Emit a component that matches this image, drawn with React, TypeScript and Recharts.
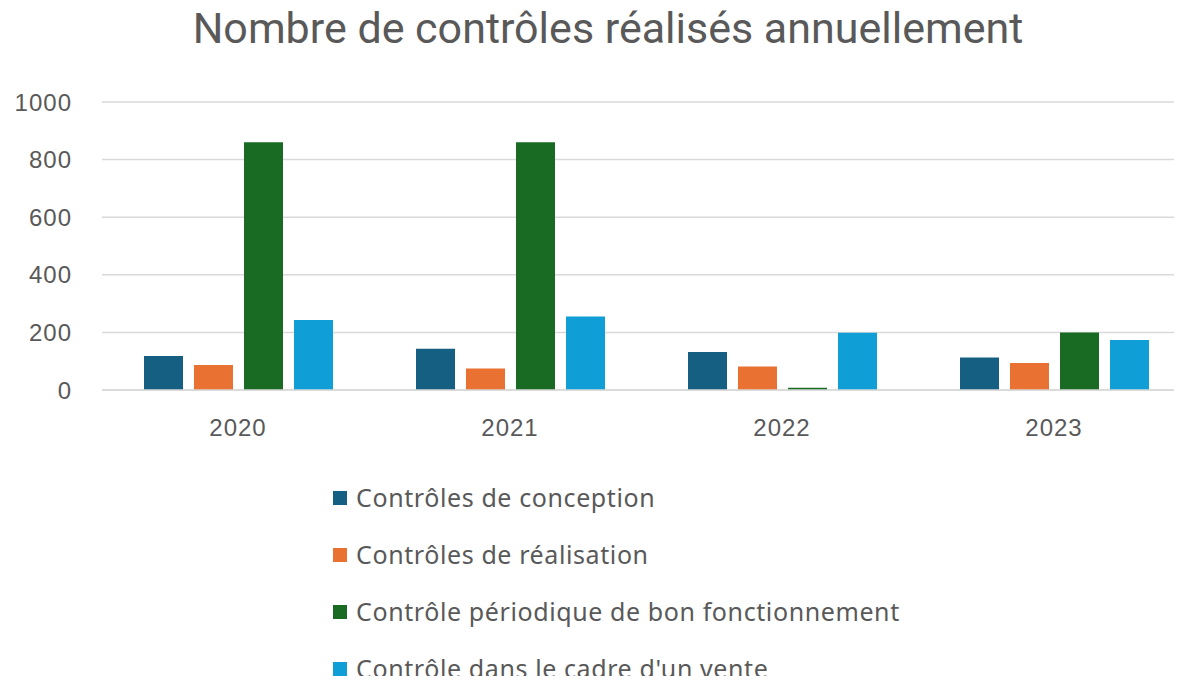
import React from "react";
import { BarChart, Bar, XAxis, YAxis, CartesianGrid } from "recharts";

const years = ["2020", "2021", "2022", "2023"];
const conception = [118, 143, 132, 113];
const realisation = [87, 75, 82, 94];
const periodique = [860, 860, 8, 200];
const vente = [243, 255, 199, 174];
const yTicks = [0, 200, 400, 600, 800, 1000];

const seriesNames = [
  "Contrôles de conception",
  "Contrôles de réalisation",
  "Contrôle périodique de bon fonctionnement",
  "Contrôle dans le cadre d'un vente",
];
const seriesKeys = ["conception", "realisation", "periodique", "vente"];
const colors = ["#156082", "#E97132", "#196B24", "#0F9ED5"];

const data = years.map((y, i) => ({
  year: y,
  conception: conception[i],
  realisation: realisation[i],
  periodique: periodique[i],
  vente: vente[i],
}));

const tickStyle = {
  fill: "#595959",
  fontSize: 24,
  letterSpacing: 1,
  fontFamily: "'Liberation Sans', Arial, sans-serif",
};

const LegendBox = () => (
  <div style={{ position: "absolute", left: 333, top: 469, width: 800 }}>
    {seriesNames.map((n, i) => (
      <div
        key={n}
        style={{
          display: "flex",
          alignItems: "center",
          height: 57,
          lineHeight: 1,
          fontFamily: "'Noto Sans', sans-serif",
          fontSize: 25,
          letterSpacing: 0.6,
          color: "#595959",
          whiteSpace: "nowrap",
        }}
      >
        <span
          style={{
            display: "inline-block",
            width: 14,
            height: 14,
            background: colors[i],
            marginRight: 9,
            flexShrink: 0,
          }}
        />
        <span style={{ lineHeight: 1 }}>{n}</span>
      </div>
    ))}
  </div>
);

export default function App() {
  return (
    <div
      style={{
        position: "relative",
        margin: -8,
        width: 1182,
        height: 684,
        overflow: "hidden",
        background: "#fff",
      }}
    >
      <div
        style={{
          position: "absolute",
          left: 0,
          top: 3,
          width: 1216,
          textAlign: "center",
          fontFamily: "Roboto, sans-serif",
          fontSize: 43,
          color: "#595959",
          zIndex: 2,
        }}
      >
        Nombre de contrôles réalisés annuellement
      </div>
      <BarChart
        width={1202}
        height={684}
        data={data}
        margin={{ top: 102, right: 12, left: 2, bottom: 254 }}
        barSize={39}
        barGap={11}
      >
        <CartesianGrid vertical={false} stroke="#d9d9d9" strokeWidth={1.5} />
        <XAxis
          dataKey="year"
          axisLine={{ stroke: "#d9d9d9", strokeWidth: 1.5 }}
          tickLine={false}
          tickSize={0}
          tickMargin={29}
          tick={tickStyle}
          height={40}
        />
        <YAxis
          domain={[0, 1000]}
          ticks={yTicks}
          width={100}
          axisLine={false}
          tickLine={false}
          tickSize={0}
          tickMargin={30}
          tick={tickStyle}
        />
        {seriesKeys.map((k, i) => (
          <Bar
            key={k}
            dataKey={k}
            name={seriesNames[i]}
            fill={colors[i]}
            isAnimationActive={false}
          />
        ))}
      </BarChart>
      <LegendBox />
    </div>
  );
}
